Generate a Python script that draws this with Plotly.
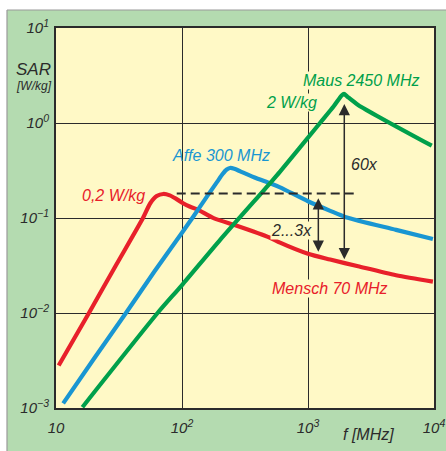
import plotly.graph_objects as go
import math

# ---------------- data ----------------
mensch_f = [10.5, 18.4, 30, 49, 56, 63, 71, 80, 90, 102, 115, 131, 180, 272, 500, 600, 1000, 1500, 2500, 5000, 9800]
mensch_sar = [0.0028, 0.0102, 0.032, 0.1, 0.143, 0.17, 0.179, 0.173, 0.159, 0.143, 0.132, 0.124, 0.099,
              0.083, 0.062, 0.055, 0.042, 0.0365, 0.031, 0.025, 0.0214]

affe_f = [11.4, 20, 35.9, 60, 100, 122, 160, 190, 210, 225, 240, 260, 290, 390, 500, 600, 1000, 1500, 2000, 5000, 9800]
affe_sar = [0.00112, 0.0033, 0.01, 0.027, 0.07, 0.102, 0.173, 0.24, 0.29, 0.322, 0.336, 0.33, 0.31, 0.262, 0.232,
            0.21, 0.15, 0.119, 0.102, 0.075, 0.06]

maus_f = [16.2, 64, 100, 200, 499, 600, 1245, 1600, 1850, 1930, 2050, 2500, 9600]
maus_sar = [0.00102, 0.01, 0.0197, 0.0586, 0.232, 0.308, 1.0, 1.5, 1.95, 2.03, 1.9, 1.55, 0.577]

ref_level_f = [90.8, 2430]
ref_level_sar = [0.181, 0.181]

arrow_small_f = 1208
arrow_small_sar = [0.167, 0.0442]
arrow_big_f = 1941
arrow_big_sar = [1.64, 0.0367]

x_tickvals = [10, 100, 1000, 10000]
x_ticktext = ["10", "10<sup>2</sup>", "10<sup>3</sup>", "10<sup>4</sup>"]
y_tickvals = [0.001, 0.01, 0.1, 1, 10]
y_ticktext = ["10<sup>−3</sup>", "10<sup>−2</sup>", "10<sup>−1</sup>", "10<sup>0</sup>", "10<sup>1</sup>"]

# ---------------- styling ----------------
W, H = 446, 451
ML, MR, MT, MB = 56, 12, 28, 43
PW, PH = W - ML - MR, H - MT - MB
GREEN_BG = "#b4dbb0"
YELLOW = "#fff9c6"
RED = "#e8202a"
BLUE = "#1996d2"
GREEN = "#00a04b"
DARK = "#2b2b2b"
FONT = "Liberation Sans"


def px(xp):
    return (xp - ML) / PW


def py(yp):
    return (H - MB - yp) / PH


fig = go.Figure()
for f, s, c in [(mensch_f, mensch_sar, RED), (affe_f, affe_sar, BLUE), (maus_f, maus_sar, GREEN)]:
    fig.add_trace(go.Scatter(x=f, y=s, mode="lines",
                             line=dict(color=c, width=4.2, shape="spline", smoothing=0.7),
                             hoverinfo="skip"))

fig.add_trace(go.Scatter(x=ref_level_f, y=ref_level_sar, mode="lines",
                         line=dict(color=DARK, width=2, dash="9px,5px"), hoverinfo="skip"))

ann = []
# arrows (double-headed)
for xf, ys in [(arrow_small_f, arrow_small_sar), (arrow_big_f, arrow_big_sar)]:
    ann.append(dict(x=math.log10(xf), y=math.log10(ys[1]), ax=math.log10(xf), ay=math.log10(ys[0]),
                    xref="x", yref="y", axref="x", ayref="y", text="", showarrow=True,
                    arrowhead=2, arrowside="end+start", arrowsize=1.5, arrowwidth=1.5, arrowcolor=DARK))


def label(text, x, y, color, size=16, bg=None, xanchor="center"):
    d = dict(text=text, x=px(x), y=py(y), xref="paper", yref="paper", showarrow=False,
             xanchor=xanchor, yanchor="middle",
             font=dict(family=FONT, size=size, color=color, style="italic"), borderpad=0)
    if bg:
        d["bgcolor"] = bg
    ann.append(d)


label("0,2 W/kg", 113, 195, RED)
label("Affe 300 MHz", 221, 155, BLUE)
label("Maus 2450 MHz", 361, 80, GREEN, bg=YELLOW)
label("2 W/kg", 291, 102, GREEN, bg=YELLOW)
label("60x", 364, 164, DARK)
label("2...3x", 291, 230, DARK, bg=YELLOW)
label("Mensch 70 MHz", 330, 288, RED, bg=YELLOW)
label("SAR", 52, 69, DARK, size=17, xanchor="right")
label("[W/kg]", 53, 86, DARK, size=12, xanchor="right")
label("f [MHz]", 368, 434, DARK, size=16)

shapes = [
    # white strips outside the green frame
    dict(type="rect", xref="paper", yref="paper", x0=px(-5), x1=px(W + 5), y0=py(10), y1=py(-5),
         fillcolor="white", line=dict(width=0), layer="below"),
    dict(type="rect", xref="paper", yref="paper", x0=px(-5), x1=px(7), y0=py(H + 5), y1=py(-5),
         fillcolor="white", line=dict(width=0), layer="below"),
    dict(type="line", xref="paper", yref="paper", x0=px(7), x1=px(W + 5), y0=py(10), y1=py(10),
         line=dict(color="#9a9a9a", width=1.2), layer="below"),
    dict(type="line", xref="paper", yref="paper", x0=px(7), x1=px(7), y0=py(10), y1=py(H + 5),
         line=dict(color="#9a9a9a", width=1.2), layer="below"),
]

fig.update_layout(
    width=W, height=H, margin=dict(l=ML, r=MR, t=MT, b=MB, autoexpand=False),
    paper_bgcolor=GREEN_BG, plot_bgcolor=YELLOW, showlegend=False,
    annotations=ann, shapes=shapes,
    xaxis=dict(type="log", range=[1, 4], tickvals=x_tickvals, ticktext=x_ticktext, automargin=False,
               tickfont=dict(family=FONT, size=15, color=DARK, style="italic"),
               showgrid=True, gridcolor=DARK, gridwidth=1, zeroline=False,
               showline=True, linecolor=DARK, linewidth=2, mirror=True,
               ticks="outside", ticklen=5, tickcolor="rgba(0,0,0,0)"),
    yaxis=dict(type="log", range=[-3, 1], tickvals=y_tickvals, ticktext=y_ticktext, automargin=False,
               tickfont=dict(family=FONT, size=15, color=DARK, style="italic"),
               showgrid=True, gridcolor=DARK, gridwidth=1, zeroline=False,
               showline=True, linecolor=DARK, linewidth=2, mirror=True,
               ticks="outside", ticklen=2, tickcolor="rgba(0,0,0,0)"),
)

fig.write_html(
    "out.html",
    config={"displayModeBar": False},
    post_script="document.body.style.margin='0';document.body.style.padding='0';"
                "document.body.style.overflow='hidden';",
)
